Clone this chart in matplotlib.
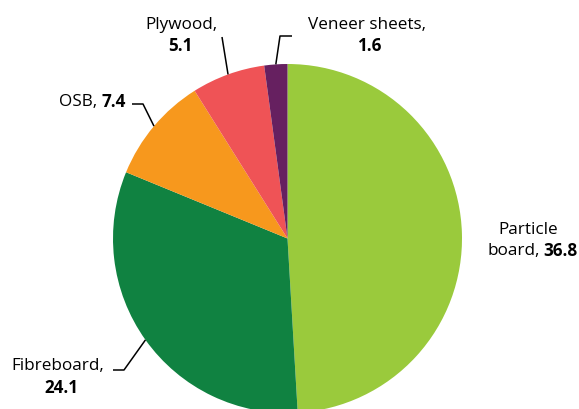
import numpy as np
import matplotlib
matplotlib.use('Agg')
import matplotlib.pyplot as plt

plt.rcParams['font.family'] = ['Open Sans', 'DejaVu Sans']

products = ['Particle board', 'Fibreboard', 'OSB', 'Plywood', 'Veneer sheets']
values = [36.8, 24.1, 7.4, 5.1, 1.6]
colors = ['#9ACA3C', '#108241', '#F7981D', '#EF5356', '#662060']

W, H = 579, 409
fig = plt.figure(figsize=(W / 100, H / 100), dpi=100)
ax = fig.add_axes([0, 0, 1, 1])

cx, cy, r = 287.5, H - 238.5, 174.5
wedges, _ = ax.pie(values, colors=colors, startangle=90, counterclock=False,
                   center=(cx, cy), radius=r, wedgeprops=dict(linewidth=0))
ax.set_xlim(0, W)
ax.set_ylim(0, H)
ax.set_aspect('equal')
ax.axis('off')


def edge(w):
    a = np.deg2rad((w.theta1 + w.theta2) / 2)
    return cx + r * np.cos(a), cy + r * np.sin(a)


fs = 12.3
lc = dict(color='black', lw=1.1, solid_capstyle='butt')

# particle board, no leader
ax.text(528, H - 230, 'Particle', ha='center', va='center', fontsize=fs)
ax.text(540, H - 251, 'board,', ha='right', va='center', fontsize=fs)
ax.text(578, H - 251, '36.8', ha='right', va='center', fontsize=fs, fontweight='bold')

# fibreboard
ax.text(58, H - 366, 'Fibreboard,', ha='center', va='center', fontsize=fs)
ax.text(61, H - 388, '24.1', ha='center', va='center', fontsize=fs, fontweight='bold')
ex, ey = edge(wedges[1])
ax.plot([113, 124, ex], [H - 370, H - 370, ey], **lc)

# osb
ax.text(97, H - 102, 'OSB,', ha='right', va='center', fontsize=fs)
ax.text(101, H - 102, '7.4', ha='left', va='center', fontsize=fs, fontweight='bold')
ex, ey = edge(wedges[2])
ax.plot([132, 143, ex], [H - 104, H - 104, ey], **lc)

# plywood
ax.text(181, H - 25, 'Plywood,', ha='center', va='center', fontsize=fs)
ax.text(180, H - 46, '5.1', ha='center', va='center', fontsize=fs, fontweight='bold')
ex, ey = edge(wedges[3])
ax.plot([222, ex], [H - 37, ey], **lc)

# veneer sheets
ax.text(367, H - 25, 'Veneer sheets,', ha='center', va='center', fontsize=fs)
ax.text(369, H - 46, '1.6', ha='center', va='center', fontsize=fs, fontweight='bold')
ex, ey = edge(wedges[4])
ax.plot([292, 280, ex], [H - 36, H - 36, ey], **lc)

fig.savefig('out.png', dpi=100)
